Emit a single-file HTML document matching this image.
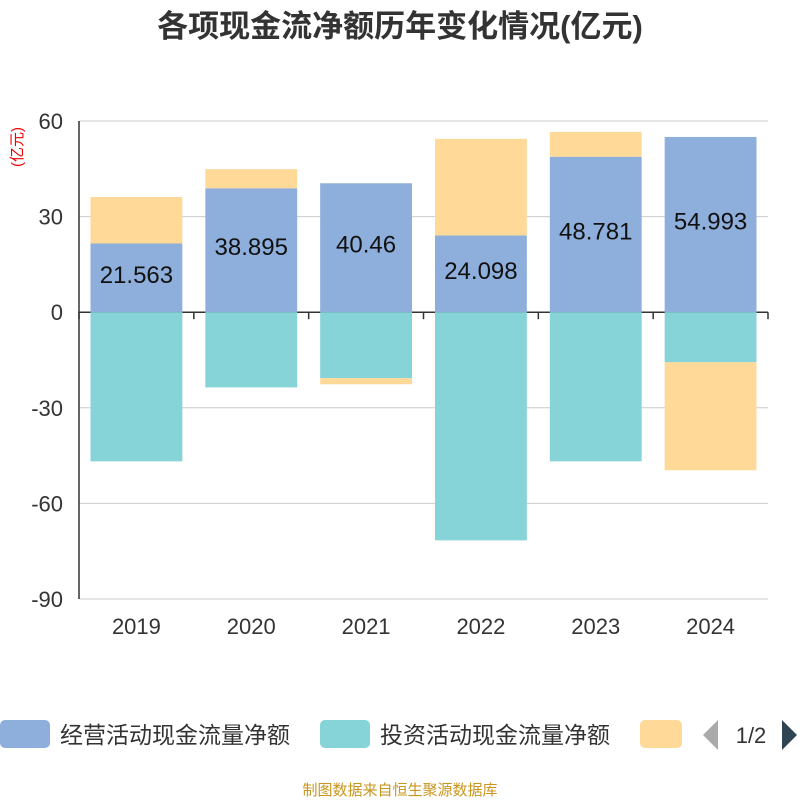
<!DOCTYPE html>
<html><head><meta charset="utf-8">
<style>
body{margin:0;background:#fff;width:800px;height:800px;overflow:hidden;font-family:"Liberation Sans","Noto Sans CJK SC",sans-serif;}
</style></head>
<body>
<svg width="800" height="800" xmlns="http://www.w3.org/2000/svg" id="chart" font-family="Liberation Sans, Noto Sans CJK SC, sans-serif">
<text x="400" y="37" text-anchor="middle" font-size="31" font-weight="bold" fill="#333">各项现金流净额历年变化情况(亿元)</text>
<text transform="translate(22,147) rotate(-90)" text-anchor="middle" font-size="15" fill="#e00">(亿元)</text>
<g id="grid"></g>
<g id="bars"></g>
<g id="labels"></g>
<g id="axes"></g>
<g>
<rect x="0" y="720" width="50" height="28" rx="5" fill="#8eaedb"/>
<text x="60" y="743" font-size="23" fill="#333">经营活动现金流量净额</text>
<rect x="320" y="720" width="50" height="28" rx="5" fill="#86d4d8"/>
<text x="380" y="743" font-size="23" fill="#333">投资活动现金流量净额</text>
<rect x="640" y="720" width="42" height="28" rx="5" fill="#fed998"/>
<polygon points="718,720 718,750 703,735" fill="#aaa"/>
<text x="751" y="743" text-anchor="middle" font-size="22" fill="#333">1/2</text>
<polygon points="782,720 782,750 797,735" fill="#2f4554"/>
</g>
<text x="400" y="795" text-anchor="middle" font-size="15" fill="#c8961e">制图数据来自恒生聚源数据库</text>
</svg>
<script>
const years=['2019','2020','2021','2022','2023','2024'];
const operating=[21.563,38.895,40.46,24.098,48.781,54.993];
const investing=[-46.8,-23.6,-20.7,-71.6,-46.8,-15.7];
const financing=[14.6,6.0,-1.9,30.3,7.8,-33.9];
const yTicks=[60,30,0,-30,-60,-90];
const NS='http://www.w3.org/2000/svg';
const x0=79,x1=768,yTop=121,yBot=599,vMax=60,vMin=-90;
const y=v=>yTop+(vMax-v)*(yBot-yTop)/(vMax-vMin);
const band=(x1-x0)/years.length;
const bx=i=>x0+band*i+11.5;
const bw=band-23;
function mk(tag,attrs,parent){const e=document.createElementNS(NS,tag);for(const k in attrs)e.setAttribute(k,attrs[k]);document.getElementById(parent).appendChild(e);return e;}
yTicks.forEach(t=>{
 const g=mk('line',{x1:x0,x2:x1,y1:y(t),y2:y(t),stroke:t===0?'#333':'#ccc','stroke-width':t===0?1.5:1},'grid');
 
 
 const l=mk('text',{x:x0-16,y:y(t)+8,'text-anchor':'end','font-size':22,fill:'#333'},'axes');
 l.textContent=t;
 
 
});
const ax=mk('line',{x1:x0,x2:x0,y1:yTop,y2:yBot,stroke:'#333','stroke-width':1.5},'axes');


for(let i=0;i<=years.length;i++){
 const t=mk('line',{x1:x0+band*i,x2:x0+band*i,y1:y(0),y2:y(0)+7,stroke:'#333','stroke-width':1.5},'axes');
 
 
}
years.forEach((yr,i)=>{
 let pos=0,neg=0;
 [[operating[i],'#8eaedb','bar-operating'],[investing[i],'#86d4d8','bar-investing'],[financing[i],'#fed998','bar-financing']].forEach(([v,c,n])=>{
  let a,b;
  if(v>=0){a=pos;b=pos+v;pos=b;}else{a=neg;b=neg+v;neg=b;}
  const r=mk('rect',{x:bx(i),width:bw,y:Math.min(y(a),y(b)),height:Math.abs(y(a)-y(b)),fill:c},'bars');
  
  
 });
 const l=mk('text',{x:bx(i)+bw/2,y:y(operating[i]/2)+5,'text-anchor':'middle','font-size':24,fill:'#111'},'labels');
 l.textContent=operating[i];
 
 
 const xl=mk('text',{x:bx(i)+bw/2,y:634,'text-anchor':'middle','font-size':22,fill:'#333'},'axes');
 xl.textContent=yr;
 
 
});
</script>
</body></html>
